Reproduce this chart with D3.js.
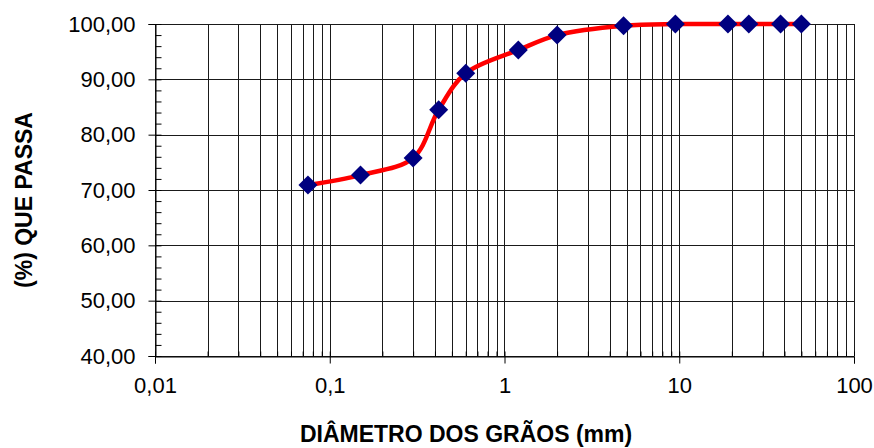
<!DOCTYPE html>
<html>
<head>
<meta charset="utf-8">
<script src="https://cdn.jsdelivr.net/npm/d3@7"></script>
<style>
  html, body { margin: 0; padding: 0; background: #fff; }
  svg { display: block; font-family: "Liberation Sans", Arial, sans-serif; }
</style>
</head>
<body>
<svg id="chart" width="874" height="448"></svg>
<script>
// ---- data ----
const diameters = [0.075, 0.15, 0.3, 0.42, 0.6, 1.2, 2.0, 4.8, 9.5, 19, 25, 38, 50];
const passing   = [70.9, 72.7, 75.8, 84.5, 91.1, 95.3, 98.0, 99.7, 100, 100, 100, 100, 100];
const xTickValues = [0.01, 0.1, 1, 10, 100];
const yTickValues = [40, 50, 60, 70, 80, 90, 100];
const xTitle = "DIÂMETRO DOS GRÃOS (mm)";
const yTitle = "(%) QUE PASSA";

// ---- layout ----
const svg = d3.select("#chart");
const pLeft = 155, pRight = 854, pTop = 24, pBottom = 356;

const x = d3.scaleLog().domain([0.01, 100]).range([pLeft, pRight]);
const y = d3.scaleLinear().domain([40, 100]).range([pBottom, pTop]);

const loc = d3.formatLocale({decimal: ",", thousands: ".", grouping: [3], currency: ["R$", ""]});
const fx = loc.format("~g");
const fy = loc.format(".2f");

// minor x values
const minorX = [];
for (let e = -2; e < 2; e++) {
  for (let m = 1; m <= 9; m++) minorX.push(m * Math.pow(10, e));
}
minorX.push(100);
const minorY = d3.range(40, 100.1, 2);

const gridColor = "#1a1a1a";

// gridlines
svg.append("g").selectAll("line").data(minorX).join("line")
  .attr("x1", d => Math.round(x(d)) + 0.5).attr("x2", d => Math.round(x(d)) + 0.5)
  .attr("y1", pTop).attr("y2", pBottom)
  .attr("stroke", gridColor).attr("stroke-width", 1);
svg.append("g").selectAll("line").data(yTickValues).join("line")
  .attr("x1", pLeft).attr("x2", pRight)
  .attr("y1", d => Math.round(y(d)) + 0.5).attr("y2", d => Math.round(y(d)) + 0.5)
  .attr("stroke", gridColor).attr("stroke-width", 1);

// y axis (major, outward)
const yAxis = svg.append("g").attr("transform", `translate(${pLeft + 0.5},0)`)
  .call(d3.axisLeft(y).tickValues(yTickValues).tickSize(7).tickPadding(13).tickFormat(fy));
yAxis.select(".domain").attr("stroke", "#000");
yAxis.selectAll(".tick line").attr("stroke", "#000");
yAxis.selectAll("text").attr("font-size", 22).attr("fill", "#000")
  .attr("font-family", "'Liberation Sans', Arial, sans-serif");

// y minor ticks (inward)
const yMinor = svg.append("g").attr("transform", `translate(${pLeft + 0.5},0)`)
  .call(d3.axisRight(y).tickValues(minorY).tickSize(6).tickFormat(""));
yMinor.select(".domain").remove();
yMinor.selectAll(".tick line").attr("stroke", "#000");

// x axis (major, outward)
const xAxis = svg.append("g").attr("transform", `translate(0,${pBottom + 0.5})`)
  .call(d3.axisBottom(x).tickValues(xTickValues).tickSize(7).tickPadding(14).tickFormat(fx));
xAxis.select(".domain").attr("stroke", "#000");
xAxis.selectAll(".tick line").attr("stroke", "#000");
xAxis.selectAll("text").attr("font-size", 22).attr("fill", "#000")
  .attr("font-family", "'Liberation Sans', Arial, sans-serif");

// x minor ticks (inward)
const xMinor = svg.append("g").attr("transform", `translate(0,${pBottom + 0.5})`)
  .call(d3.axisTop(x).tickValues(minorX).tickSize(5).tickFormat(""));
xMinor.select(".domain").remove();
xMinor.selectAll(".tick line").attr("stroke", "#000");

// curve
const pts = diameters.map((d, i) => [d, passing[i]]);
const line = d3.line().x(d => x(d[0])).y(d => y(d[1])).curve(d3.curveCatmullRom.alpha(0.5));
svg.append("path").datum(pts).attr("d", line)
  .attr("fill", "none").attr("stroke", "#ff0000").attr("stroke-width", 4.5)
  .attr("stroke-linejoin", "round").attr("stroke-linecap", "round");

// markers
const r = 9.5;
const diamond = `M0,${-r}L${r},0L0,${r}L${-r},0Z`;
svg.append("g").selectAll("path").data(pts).join("path")
  .attr("d", diamond)
  .attr("transform", d => `translate(${x(d[0])},${y(d[1])})`)
  .attr("fill", "#000080");

// titles
svg.append("text")
  .attr("x", 466).attr("y", 442)
  .attr("text-anchor", "middle")
  .attr("font-size", 23).attr("font-weight", "bold").attr("fill", "#000")
  .text(xTitle);
svg.append("text")
  .attr("transform", "translate(32,200) rotate(-90)")
  .attr("text-anchor", "middle")
  .attr("font-size", 23).attr("font-weight", "bold").attr("fill", "#000")
  .text(yTitle);
</script>
</body>
</html>
